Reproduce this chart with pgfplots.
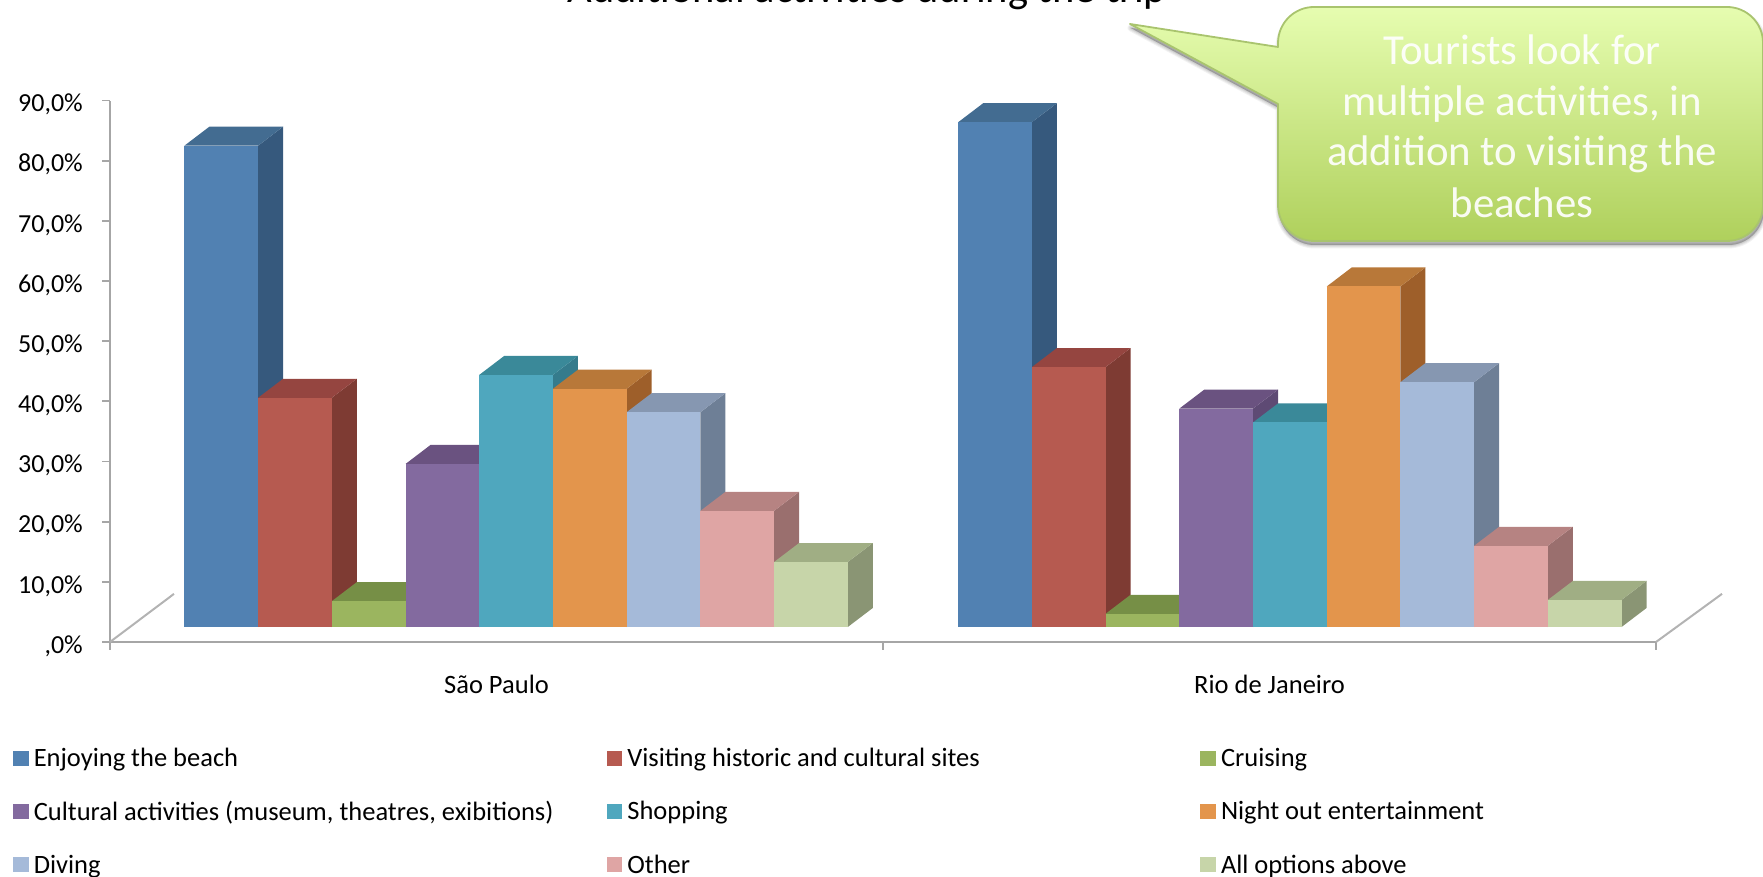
\documentclass[border=0pt]{standalone}
\usepackage{fontspec}
\setmainfont{Carlito}
\usepackage{pgfplots}
\pgfplotsset{compat=1.18}

% series colours: F front face, T top face, S side face
\definecolor{blueF}{HTML}{5181B2}\definecolor{blueT}{HTML}{436C91}\definecolor{blueS}{HTML}{36597D}
\definecolor{redF}{HTML}{B65A50}\definecolor{redT}{HTML}{954540}\definecolor{redS}{HTML}{7E3B33}
\definecolor{greenF}{HTML}{9BB55F}\definecolor{greenT}{HTML}{768F46}\definecolor{greenS}{HTML}{687E3E}
\definecolor{purpleF}{HTML}{836A9F}\definecolor{purpleT}{HTML}{6A5280}\definecolor{purpleS}{HTML}{5E4A74}
\definecolor{tealF}{HTML}{4FA7BE}\definecolor{tealT}{HTML}{3A8999}\definecolor{tealS}{HTML}{357B8C}
\definecolor{orangeF}{HTML}{E3954C}\definecolor{orangeT}{HTML}{B87839}\definecolor{orangeS}{HTML}{9E5F2A}
\definecolor{skyF}{HTML}{A5BAD9}\definecolor{skyT}{HTML}{8697B1}\definecolor{skyS}{HTML}{6E7F96}
\definecolor{pinkF}{HTML}{DFA5A4}\definecolor{pinkT}{HTML}{B68382}\definecolor{pinkS}{HTML}{9A6F6E}
\definecolor{sageF}{HTML}{C7D5A9}\definecolor{sageT}{HTML}{A0AE84}\definecolor{sageS}{HTML}{8A9574}
\definecolor{axisgrey}{HTML}{A6A6A6}
\definecolor{calloutTop}{HTML}{E6FDB0}
\definecolor{calloutBot}{HTML}{AFD05C}
\definecolor{calloutEdge}{HTML}{A9C46E}

% one prism: category, position in the cluster, value, colour stem
\newcommand{\prism}[4]{%
  \pgfmathsetmacro{\xa}{#1*1.001+0.09625+#2*0.09535}%
  \pgfmathsetmacro{\xb}{\xa+0.09535}%
  \pgfmathsetmacro{\xc}{\xb+0.03234}%
  \pgfmathsetmacro{\xd}{\xa+0.03234}%
  \pgfmathsetmacro{\yb}{2.49}%
  \pgfmathsetmacro{\yt}{#3+2.49}%
  \pgfmathsetmacro{\yu}{\yt+3.16}%
  \pgfmathsetmacro{\yv}{\yb+3.16}%
  \edef\doplot{%
    \noexpand\addplot[forget plot,fill=#4S,draw=none] coordinates {(\xb,\yb) (\xc,\yv) (\xc,\yu) (\xb,\yt)} --cycle;
    \noexpand\addplot[forget plot,fill=#4T,draw=none] coordinates {(\xa,\yt) (\xb,\yt) (\xc,\yu) (\xd,\yu)} --cycle;
    \noexpand\addplot[forget plot,fill=#4F,draw=none] coordinates {(\xa,\yb) (\xb,\yb) (\xb,\yt) (\xa,\yt)} --cycle;
  }\doplot}

% legend cells share one width, so the columns sit at equal steps
\newcommand{\cell}[1]{\makebox[574pt][l]{\hspace{3pt}#1}}

\begin{document}
\begin{tikzpicture}[x=1pt,y=1pt]
\path[use as bounding box] (0,0) rectangle (1763,877);

\begin{axis}[
  at={(110pt,235pt)}, anchor=south west,
  scale only axis, width=1546pt, height=541.5pt,
  xmin=0, xmax=2, ymin=0, ymax=90,
  clip=false,
  axis x line=bottom, axis y line=left,
  axis line style={draw=axisgrey, line width=2.7pt, -},
  tick style={draw=axisgrey, line width=1.8pt},
  major tick length=8pt,
  tick align=outside,
  ytick={0,10,...,90},
  yticklabels={{,0\%},{10,0\%},{20,0\%},{30,0\%},{40,0\%},{50,0\%},{60,0\%},{70,0\%},{80,0\%},{90,0\%}},
  yticklabel style={font=\fontsize{26}{31}\selectfont, inner sep=0pt, xshift=-19pt, yshift=-4pt},
  xtick={0,1,2},
  xticklabels={,,},
  extra x ticks={0.5,1.5},
  extra x tick labels={São Paulo,Rio de Janeiro},
  extra x tick style={major tick length=0pt, tick style={draw=none}},
  xticklabel style={font=\fontsize{26.5}{31}\selectfont, inner sep=0pt, yshift=-33pt},
  legend columns=3,
  legend cell align=left,
  legend style={draw=none, fill=none, at={(-97pt,-104pt)}, anchor=north west,
    inner sep=0pt, row sep=29pt, font=\fontsize{26.5}{31}\selectfont,
    /tikz/every even column/.style={column sep=0pt}},
  legend image code/.code={\fill[#1,draw=none] (0pt,-7.5pt) rectangle (15.6pt,7.5pt);},
]
% floor edges of the plot box
\addplot[forget plot, draw=axisgrey!85, line width=2pt] coordinates {(0,0) (0.0828,8.0)};
\addplot[forget plot, draw=axisgrey!85, line width=2pt] coordinates {(2,0) (2.0854,8.0)};

% São Paulo
\prism{0}{0}{80.0}{blue}
\prism{0}{1}{38.1}{red}
\prism{0}{2}{4.3}{green}
\prism{0}{3}{27.1}{purple}
\prism{0}{4}{41.9}{teal}
\prism{0}{5}{39.6}{orange}
\prism{0}{6}{35.7}{sky}
\prism{0}{7}{19.3}{pink}
\prism{0}{8}{10.8}{sage}
% Rio de Janeiro
\prism{1}{0}{83.9}{blue}
\prism{1}{1}{43.2}{red}
\prism{1}{2}{2.2}{green}
\prism{1}{3}{36.3}{purple}
\prism{1}{4}{34.0}{teal}
\prism{1}{5}{56.6}{orange}
\prism{1}{6}{40.7}{sky}
\prism{1}{7}{13.5}{pink}
\prism{1}{8}{4.5}{sage}

\addlegendimage{fill=blueF}\addlegendentry{\cell{Enjoying the beach}}
\addlegendimage{fill=redF}\addlegendentry{\cell{Visiting historic and cultural sites}}
\addlegendimage{fill=greenF}\addlegendentry{\cell{Cruising}}
\addlegendimage{fill=purpleF}\addlegendentry{\cell{Cultural activities (museum, theatres, exibitions)}}
\addlegendimage{fill=tealF}\addlegendentry{\cell{Shopping}}
\addlegendimage{fill=orangeF}\addlegendentry{\cell{Night out entertainment}}
\addlegendimage{fill=skyF}\addlegendentry{\cell{Diving}}
\addlegendimage{fill=pinkF}\addlegendentry{\cell{Other}}
\addlegendimage{fill=sageF}\addlegendentry{\cell{All options above}}
\end{axis}

% title, running off the top edge of the page
\node[anchor=base, font=\fontsize{42.5}{48}\selectfont, inner sep=0pt] at (867,874) {Additional activities during the trip};

% speech bubble
\def\bubble{(1278,830) -- (1130,853) -- (1278,773) -- (1278,672) arc[start angle=180,end angle=270,radius=36]
  -- (1727,636) arc[start angle=270,end angle=360,radius=36] -- (1763,834) arc[start angle=0,end angle=90,radius=36]
  -- (1314,870) arc[start angle=90,end angle=180,radius=36] -- cycle}
\foreach \o/\w in {0.05/7,0.06/5,0.07/3,0.08/1}{
  \path[fill=black, draw=black, opacity=\o, line width=\w pt, line join=round, shift={(1pt,-4pt)}] \bubble;
}
\shade[top color=calloutTop, bottom color=calloutBot] \bubble;
\draw[calloutEdge, line width=1.8pt, line join=round] \bubble;

\foreach \txt/\base in {Tourists look for/812, {multiple activities, in}/761.5, addition to visiting the/711, beaches/659.5}{
  \node[text=white, text opacity=0.92, font=\fontsize{42.8}{51}\selectfont, inner sep=0pt, anchor=base] at (1522,\base) {\txt};
}
\end{tikzpicture}
\end{document}
